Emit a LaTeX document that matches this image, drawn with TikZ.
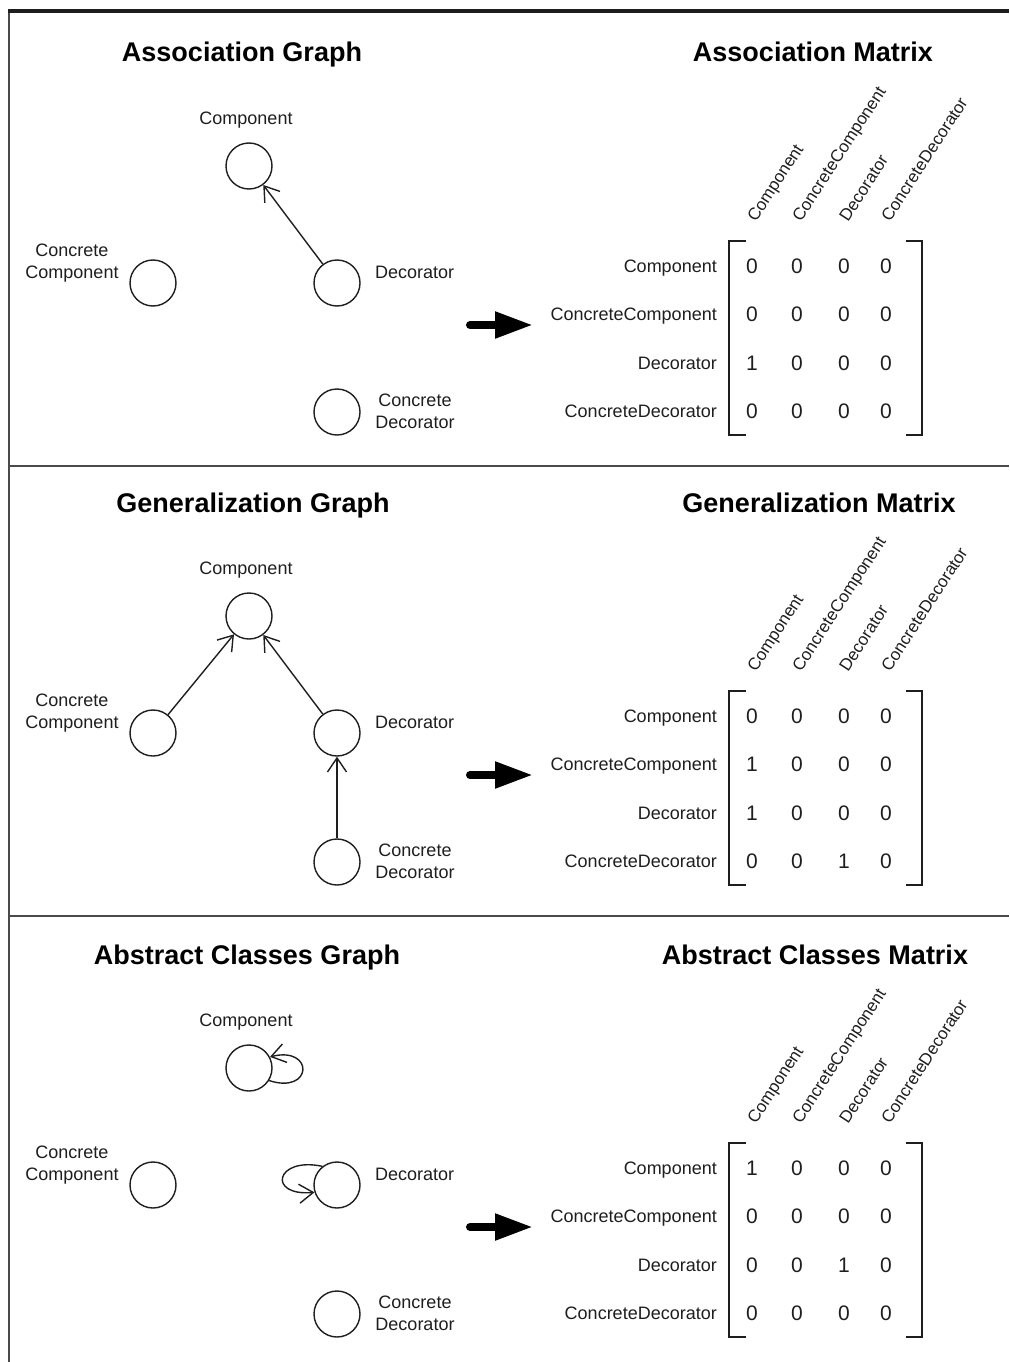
\documentclass[tikz,border=0pt]{standalone}
\usepackage{fontspec}
\setmainfont{Liberation Sans}
\usetikzlibrary{arrows.meta}

\definecolor{ink}{HTML}{1E1E1E}
\definecolor{rule}{HTML}{4A4A4A}

\tikzset{
  cls/.style={circle, draw=ink, line width=1.4pt, minimum size=46pt, inner sep=0pt},
  lbl/.style={font=\fontsize{18}{22}\selectfont, text=ink, inner sep=0pt, align=center},
  title/.style={font=\fontsize{27}{32}\selectfont\bfseries, text=black, inner sep=0pt, anchor=base},
  rel/.style={draw=ink, line width=1.4pt,
    -{Straight Barb[length=14pt, width=19pt, line width=1.4pt]}},
  bigarrow/.style={draw=black, line width=8pt, line cap=round,
    -{Triangle[length=38pt, width=25pt]}},
  rowlab/.style={font=\fontsize{18}{22}\selectfont, anchor=base east, inner sep=0pt, text=ink},
  collab/.style={font=\fontsize{17}{20}\selectfont, anchor=base west, rotate=57,
    inner sep=0pt, text=ink},
  entry/.style={font=\fontsize{21}{24}\selectfont, anchor=base, inner sep=0pt, text=ink},
  bracket/.style={draw=ink, line width=1.6pt},
}

% The four classes of the Decorator pattern, with their labels (#1 = name prefix)
\newcommand{\classnodes}[1]{%
  \node[cls] (#1comp) at (249,-166) {};
  \node[lbl] (#1comp-l) at (246,-120) {Component};
  \node[cls] (#1cc) at (153,-283) {};
  \node[lbl] (#1cc-l) at (72,-263) {Concrete\\Component};
  \node[cls] (#1dec) at (337,-283) {};
  \node[lbl, anchor=west] (#1dec-l) at (375,-272) {Decorator};
  \node[cls] (#1cd) at (337,-412) {};
  \node[lbl] (#1cd-l) at (415,-411) {Concrete\\Decorator};
}

% Labelled 4x4 adjacency matrix (#1 = name prefix, #2 = rows of entries)
\newcommand{\adjmatrix}[2]{%
  \foreach \lab [count=\r] in {Component,ConcreteComponent,Decorator,ConcreteDecorator}
    \node[rowlab] (#1row\r) at (717,{-272.5-48.3*(\r-1)}) {\lab};
  \foreach \lab/\cx [count=\c] in {Component/752,ConcreteComponent/797,Decorator/844,ConcreteDecorator/886}
    \node[collab] (#1col\c) at (\cx+4,-223) {\lab};
  \foreach \row [count=\r] in {#2} {
    \foreach \v [count=\c] in \row {
      \pgfmathsetmacro\cx{{752,797,844,886}[\c-1]}
      \node[entry] (#1m\r\c) at (\cx,{-273.5-48.3*(\r-1)}) {\v};
    }
  }
  \draw[bracket] (746,-241) -- (729,-241) -- (729,-435) -- (746,-435);
  \draw[bracket] (906,-241) -- (922,-241) -- (922,-435) -- (906,-435);
}

% Thick arrow from graph to matrix (#1 = name prefix)
\newcommand{\maparrow}[1]{%
  \coordinate (#1from) at (470,-325);
  \coordinate (#1to) at (533,-325);
  \draw[bigarrow] (#1from) -- (#1to);
}

\begin{document}
\begin{tikzpicture}[x=1pt, y=1pt]
\useasboundingbox (0,0) rectangle (1009,-1362);

% frame and panel separators
\draw[rule, line width=2pt] (9,-11) -- (9,-1362);
\draw[ink, line width=4pt] (8,-11) -- (1009,-11);
\draw[rule, line width=2pt] (9,-466) -- (1009,-466);
\draw[rule, line width=2pt] (9,-916) -- (1009,-916);

% ---------- association ----------
\node[title] (a-gt) at (242,-62) {Association Graph};
\node[title] (a-mt) at (813,-62) {Association Matrix};
\classnodes{a-}
\draw[rel] (a-dec) -- (a-comp);
\maparrow{a-}
\adjmatrix{a-}{{0,0,0,0},{0,0,0,0},{1,0,0,0},{0,0,0,0}}

% ---------- generalization ----------
\begin{scope}[yshift=-450pt]
\node[title] (g-gt) at (253,-62) {Generalization Graph};
\node[title] (g-mt) at (819,-62) {Generalization Matrix};
\classnodes{g-}
\draw[rel] (g-cc) -- (g-comp);
\draw[rel] (g-dec) -- (g-comp);
\draw[rel] (g-cd) -- (g-dec);
\maparrow{g-}
\adjmatrix{g-}{{0,0,0,0},{1,0,0,0},{1,0,0,0},{0,0,1,0}}
\end{scope}

% ---------- abstract classes ----------
\begin{scope}[yshift=-902pt]
\node[title] (c-gt) at (247,-62) {Abstract Classes Graph};
\node[title] (c-mt) at (815,-62) {Abstract Classes Matrix};
\classnodes{c-}
% self-loops marking the abstract classes
\draw[rel] (c-comp.-32) .. controls +(-18:46) and +(14:46) .. (c-comp.28);
\draw[rel] (c-dec.128) .. controls +(168:48) and +(185:48) .. (c-dec.198);
\maparrow{c-}
\adjmatrix{c-}{{1,0,0,0},{0,0,0,0},{0,0,1,0},{0,0,0,0}}
\end{scope}
\end{tikzpicture}
\end{document}
